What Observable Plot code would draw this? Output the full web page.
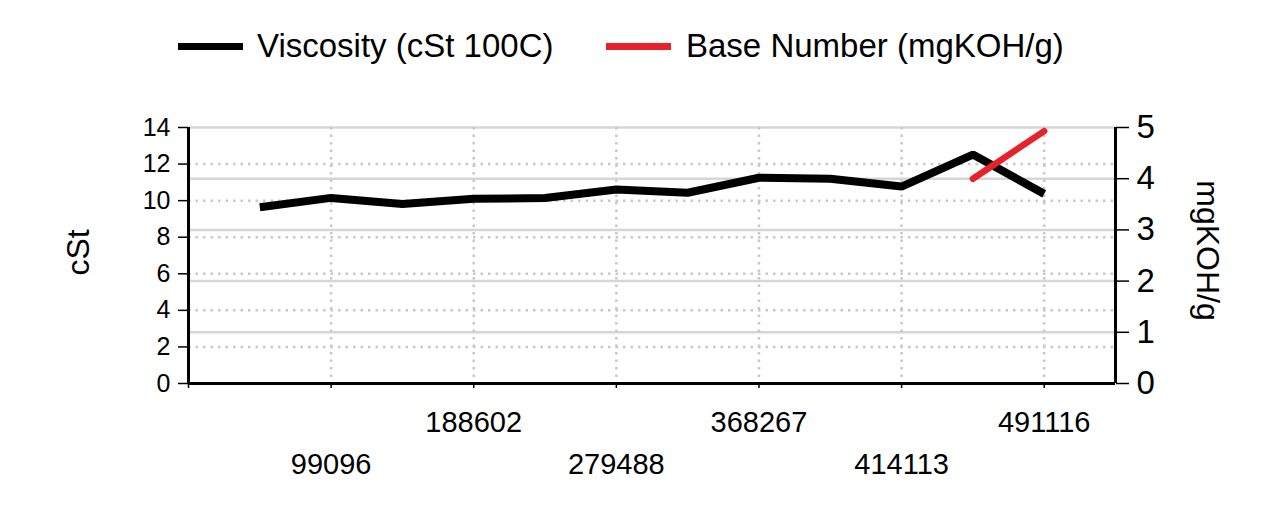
<!DOCTYPE html>
<html>
<head>
<meta charset="utf-8">
<script src="https://cdn.jsdelivr.net/npm/d3@7"></script>
<script src="https://cdn.jsdelivr.net/npm/@observablehq/plot@0.6"></script>
<style>
  html, body { margin: 0; padding: 0; background: #fff; }
  body { width: 1276px; height: 512px; overflow: hidden; font-family: "Liberation Sans", Arial, sans-serif; }
  #legend { position: relative; height: 95px; width: 1276px; }
  .sw { position: absolute; height: 7px; top: 43px; width: 65px; }
  .lt { position: absolute; top: 26px; font-size: 33px; line-height: 40px; color: #000; white-space: nowrap; }
</style>
</head>
<body>
<div id="legend"></div>
<div id="chart"></div>
<script>
// Sample positions (equally spaced categories) and their x labels
const samples = [1, 2, 3, 4, 5, 6, 7, 8, 9, 10, 11, 12];
const xTickPositions = [2, 4, 6, 8, 10, 12];
const xTickLabels = ["99096", "188602", "279488", "368267", "414113", "491116"];

// Series values
const viscosity = [9.64, 10.15, 9.82, 10.1, 10.14, 10.61, 10.43, 11.25, 11.2, 10.77, 12.52, 10.37];
const baseNumberSamples = [11, 12];
const baseNumber = [4.0, 4.93];

const seriesNames = ["Viscosity (cSt 100C)", "Base Number (mgKOH/g)"];
const seriesColors = ["#000000", "#e8222a"];

// Axis ticks
const leftTicks = [0, 2, 4, 6, 8, 10, 12, 14];
const rightTicks = [0, 1, 2, 3, 4, 5];
const leftMax = 14, rightMax = 5;
const toLeft = v => v * leftMax / rightMax;

// Legend
const legend = document.getElementById("legend");
const legendPos = [[178, 257], [606, 686]];
seriesNames.forEach((n, i) => {
  const sw = document.createElement("div");
  sw.className = "sw";
  sw.style.left = legendPos[i][0] + "px";
  sw.style.background = seriesColors[i];
  legend.appendChild(sw);
  const t = document.createElement("span");
  t.className = "lt";
  t.style.left = legendPos[i][1] + "px";
  t.textContent = n;
  legend.appendChild(t);
});

const viscData = samples.map((s, i) => ({s, v: viscosity[i]}));
const bnData = baseNumberSamples.map((s, i) => ({s, v: toLeft(baseNumber[i])}));
const labelOf = d => xTickLabels[xTickPositions.indexOf(d)] ?? "";

const font = "Liberation Sans, Arial, sans-serif";

const chart = Plot.plot({
  width: 1276,
  height: 417,
  marginLeft: 188,
  marginRight: 161,
  marginTop: 32,
  marginBottom: 129,
  style: {fontFamily: font, color: "#000", background: "#fff", overflow: "visible"},
  x: {type: "linear", domain: [0, 13]},
  y: {domain: [0, leftMax]},
  marks: [
    // grids
    Plot.gridY(rightTicks.filter(d => d > 0).map(toLeft), {stroke: "#d6d6d6", strokeOpacity: 1, strokeWidth: 2.5}),
    Plot.gridY(leftTicks.filter(d => d > 0 && d < leftMax), {stroke: "#c8c8c8", strokeOpacity: 1, strokeWidth: 2.5, strokeDasharray: "2.5,5"}),
    Plot.gridX(xTickPositions, {stroke: "#c8c8c8", strokeOpacity: 1, strokeWidth: 2.5, strokeDasharray: "2.5,5"}),
    // frame lines
    Plot.ruleX([0, 13], {stroke: "#000", strokeWidth: 3}),
    Plot.ruleY([0], {stroke: "#000", strokeWidth: 3}),
    // axes
    Plot.axisY({anchor: "left", ticks: leftTicks, tickSize: 10, tickPadding: 8, fontSize: 25, label: null, strokeWidth: 1.5}),
    Plot.axisY({anchor: "right", ticks: rightTicks.map(toLeft), tickFormat: d => String(Math.round(d * rightMax / leftMax)), tickSize: 13, tickPadding: 8, fontSize: 33, label: null, strokeWidth: 1.5}),
    Plot.axisX({ticks: [0, ...xTickPositions], tickSize: 5, tickFormat: () => "", label: null, strokeWidth: 1.5}),
    Plot.axisX({ticks: xTickPositions.filter((d, i) => i % 2 === 1), tickSize: 0, tickPadding: 28, tickFormat: labelOf, fontSize: 29, label: null}),
    Plot.axisX({ticks: xTickPositions.filter((d, i) => i % 2 === 0), tickSize: 0, tickPadding: 70, tickFormat: labelOf, fontSize: 29, label: null}),
    // axis titles
    Plot.text(["cSt"], {frameAnchor: "left", textAnchor: "middle", lineAnchor: "middle", rotate: -90, dx: -110, dy: -3, fontSize: 32, fill: "#000"}),
    Plot.text(["mgKOH/g"], {frameAnchor: "right", textAnchor: "middle", lineAnchor: "middle", rotate: 90, dx: 92, dy: -5, fontSize: 32, fill: "#000"}),
    // series
    Plot.line(viscData, {x: "s", y: "v", stroke: seriesColors[0], strokeWidth: 8, strokeLinejoin: "miter", strokeLinecap: "butt"}),
    Plot.line(bnData, {x: "s", y: "v", stroke: seriesColors[1], strokeWidth: 6.5, strokeLinecap: "round"})
  ]
});
document.getElementById("chart").appendChild(chart);
</script>
</body>
</html>
